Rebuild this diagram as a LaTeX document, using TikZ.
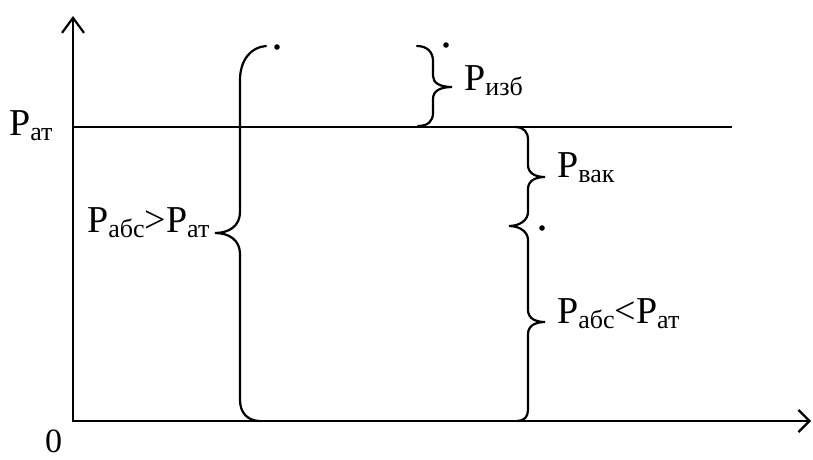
\documentclass[tikz,border=0pt]{standalone}
\usepackage{fontspec}
\setmainfont{Liberation Serif}
\usetikzlibrary{arrows.meta}
\newcommand\lowsub[1]{\raisebox{-5pt}{\fontsize{26}{26}\selectfont #1}}
\tikzset{
  lbl/.style={inner sep=0pt, anchor=base west, font=\fontsize{38}{38}\selectfont},
  axisline/.style={line width=2.2pt, line join=miter},
  bracepath/.style={line width=2.2pt, line cap=round},
  dotmark/.style={fill=black, draw=none}
}
\begin{document}
\begin{tikzpicture}[x=1pt,y=-1pt]
\useasboundingbox (0,0) rectangle (813,459);
% axes
\coordinate (O) at (73,421);
\coordinate (ytop) at (73,16);
\coordinate (xend) at (811,421);
\coordinate (patL) at (73,127);
\coordinate (patR) at (732,127);
\draw[axisline, {Straight Barb[length=15pt,width=22pt]}-{Straight Barb[length=11pt,width=22pt]}] (ytop) -- (O) -- (xend);
\draw[axisline] (patL) -- (patR);
% big left brace
\draw[bracepath] (266,46) .. controls (251,47) and (240,60) .. (240,80)
  -- (240,212) .. controls (240,226) and (229,233) .. (215,233)
  .. controls (229,233) and (240,240) .. (240,254)
  -- (240,400) .. controls (240,413) and (248,421) .. (260,421);
\fill[dotmark] (277,47) circle (2.8);
% small brace (excess)
\draw[bracepath] (417,46) .. controls (427,46) and (433,52) .. (433,61)
  -- (433,76) .. controls (433,83) and (440,87) .. (452,87)
  .. controls (440,87) and (433,91) .. (433,99)
  -- (433,113) .. controls (433,121) and (428,126) .. (418,126);
\fill[dotmark] (446,45) circle (2.8);
% right composite brace
\draw[bracepath] (515,127) .. controls (524,127) and (528,132) .. (528,140)
  -- (528,165) .. controls (528,173) and (535,177) .. (545,177)
  .. controls (535,177) and (528,181) .. (528,189)
  -- (528,212) .. controls (528,220) and (520,226) .. (509,226)
  .. controls (520,226) and (528,232) .. (528,240)
  -- (528,310) .. controls (528,318) and (535,322) .. (545,322)
  .. controls (535,322) and (528,326) .. (528,334)
  -- (528,410) .. controls (528,417) and (524,421) .. (517,421);
\fill[dotmark] (542,228) circle (2.8);
% labels
\node[lbl] (pat) at (9,135) {P\lowsub{ат}};
\node[lbl] (zero) at (45,452) {\fontsize{34}{34}\selectfont 0};
\node[lbl] (pizb) at (464,90) {P\lowsub{изб}};
\node[lbl] (pvak) at (557,177) {P\lowsub{вак}};
\node[lbl] (pgt) at (87,232) {P\lowsub{абс}>P\lowsub{ат}};
\node[lbl] (plt) at (557,323) {P\lowsub{абс}<P\lowsub{ат}};
\end{tikzpicture}
\end{document}
